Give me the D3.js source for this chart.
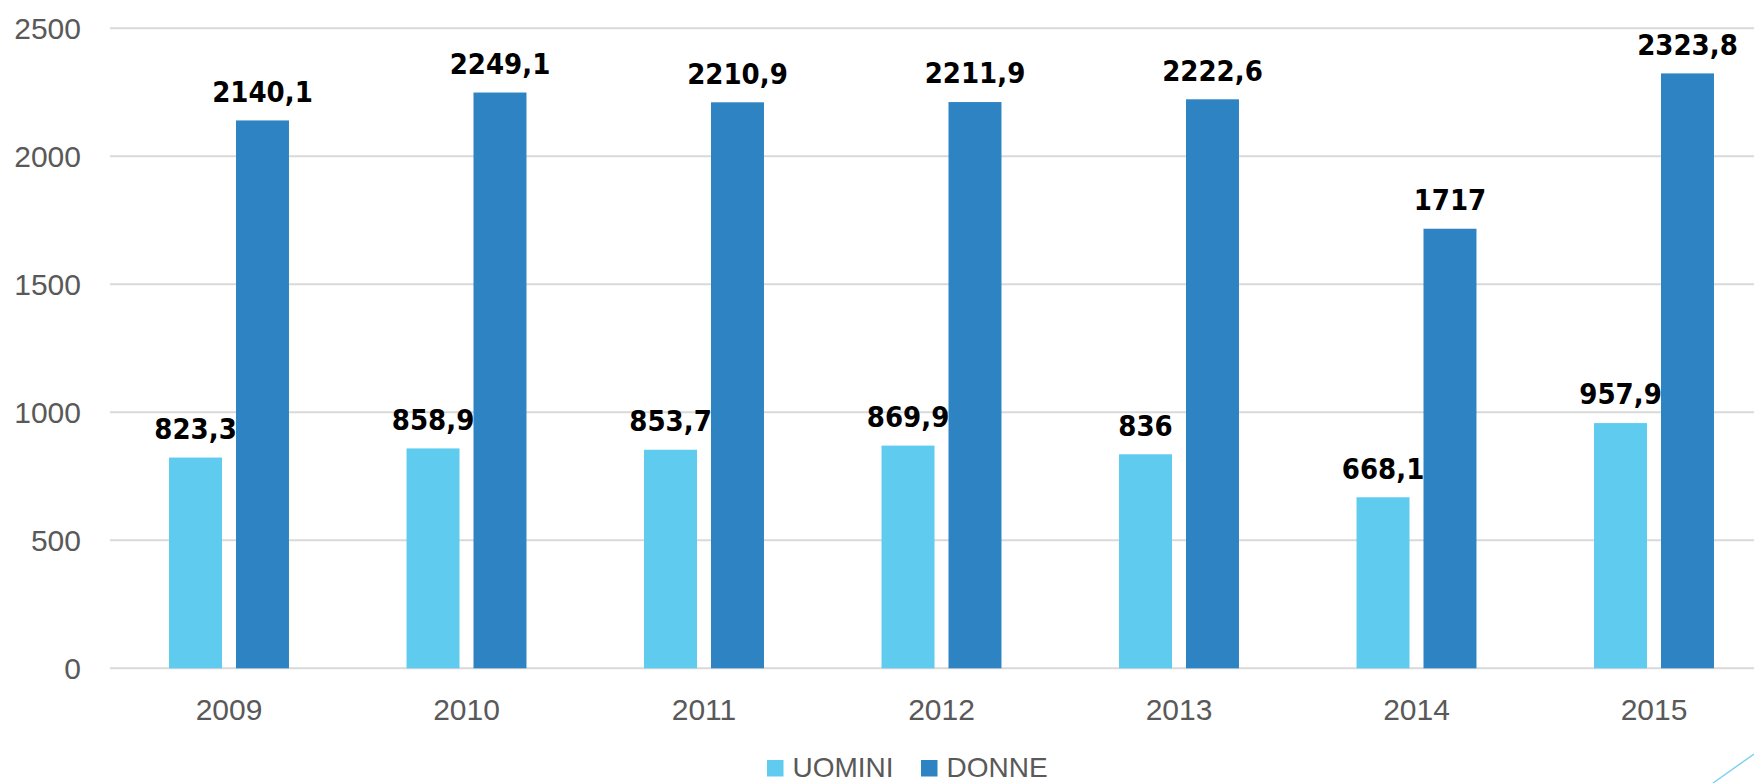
<!DOCTYPE html>
<html>
<head>
<meta charset="utf-8">
<script src="https://cdn.jsdelivr.net/npm/d3@7"></script>
<style>
  html, body { margin: 0; padding: 0; background: #fff; overflow: hidden; }
</style>
</head>
<body>
<svg id="chart"></svg>
<script>

const years = ["2009", "2010", "2011", "2012", "2013", "2014", "2015"];
const seriesNames = ["UOMINI", "DONNE"];
const uomini = [823.3, 858.9, 853.7, 869.9, 836, 668.1, 957.9];
const donne = [2140.1, 2249.1, 2210.9, 2211.9, 2222.6, 1717, 2323.8];
const yTicks = [0, 500, 1000, 1500, 2000, 2500];
const colors = ["#5ECBEF", "#2E83C3"];

function drawChart(){

    const width = 1754;
    const height = 783;

    const svg = d3.select("#chart")
                  .attr("width", width)
                  .attr("height", height);

    svg.selectAll("*").remove();

    const x = d3.scaleBand()
                .domain(years)
                .range([110.25, 1772.75])
                .paddingInner(0.495)
                .paddingOuter(0.2475);

    const x1 = d3.scaleBand()
                 .domain(seriesNames)
                 .range([0, x.bandwidth()])
                 .paddingInner(0.209);

    const y = d3.scaleLinear()
                .domain([0, 2500])
                .range([668.3, 28.3]);

    // gridlines
    svg.append("g")
       .selectAll("line")
       .data(yTicks)
       .join("line")
       .attr("x1", 110)
       .attr("x2", width)
       .attr("y1", d => y(d))
       .attr("y2", d => y(d))
       .style("stroke", "#d9d9d9")
       .style("stroke-width", 2);

    // y labels
    svg.append("g")
       .selectAll("text")
       .data(yTicks)
       .join("text")
       .attr("x", 81)
       .attr("y", d => y(d))
       .attr("dy", "0.36em")
       .attr("text-anchor", "end")
       .style("font-family", "'Liberation Sans', Arial, sans-serif")
       .style("font-size", "30px")
       .style("fill", "#595959")
       .text(d => d);

    // x labels
    svg.append("g")
       .selectAll("text")
       .data(years)
       .join("text")
       .attr("x", d => x(d) + x.bandwidth() / 2)
       .attr("y", 719.5)
       .attr("text-anchor", "middle")
       .style("font-family", "'Liberation Sans', Arial, sans-serif")
       .style("font-size", "30px")
       .style("fill", "#595959")
       .text(d => d);

    const rows = years.map((yr, i) => ({
        year: yr,
        values: [
            {key: seriesNames[0], value: uomini[i], color: colors[0]},
            {key: seriesNames[1], value: donne[i], color: colors[1]}
        ]
    }));

    const groups = svg.append("g")
                      .selectAll("g")
                      .data(rows)
                      .join("g")
                      .attr("transform", d => `translate(${x(d.year)},0)`);

    groups.selectAll("rect")
          .data(d => d.values)
          .join("rect")
          .attr("x", d => x1(d.key))
          .attr("width", x1.bandwidth())
          .attr("y", d => y(d.value))
          .attr("height", d => y(0) - y(d.value))
          .attr("fill", d => d.color);

    groups.selectAll("text")
          .data(d => d.values)
          .join("text")
          .attr("x", d => x1(d.key) + x1.bandwidth() / 2)
          .attr("y", d => y(d.value) - 18.6)
          .attr("text-anchor", "middle")
          .style("font-family", "'DejaVu Sans Condensed', 'DejaVu Sans', sans-serif")
          .style("font-stretch", "condensed")
          .style("font-weight", "bold")
          .style("font-size", "29px")
          .style("fill", "#000")
          .text(d => String(d.value).replace(".", ","));

    // legend
    const legend = svg.append("g");
    const legendX = [767, 921];
    seriesNames.forEach((name, i) => {
        legend.append("rect")
              .attr("x", legendX[i])
              .attr("y", 760)
              .attr("width", 16.5)
              .attr("height", 16.5)
              .attr("fill", colors[i]);
        legend.append("text")
              .attr("x", legendX[i] + 25.5)
              .attr("y", 777)
              .style("font-family", "'Liberation Sans Narrow', 'Liberation Sans', sans-serif")
              .style("font-size", "28px")
              .style("fill", "#595959")
              .text(name);
    });

    // decorative slide line in the corner
    svg.append("line")
       .attr("x1", 1713)
       .attr("y1", 783)
       .attr("x2", 1754)
       .attr("y2", 754)
       .style("stroke", "#7fd3f2")
       .style("stroke-width", 1.5);
}

drawChart();

</script>
</body>
</html>
